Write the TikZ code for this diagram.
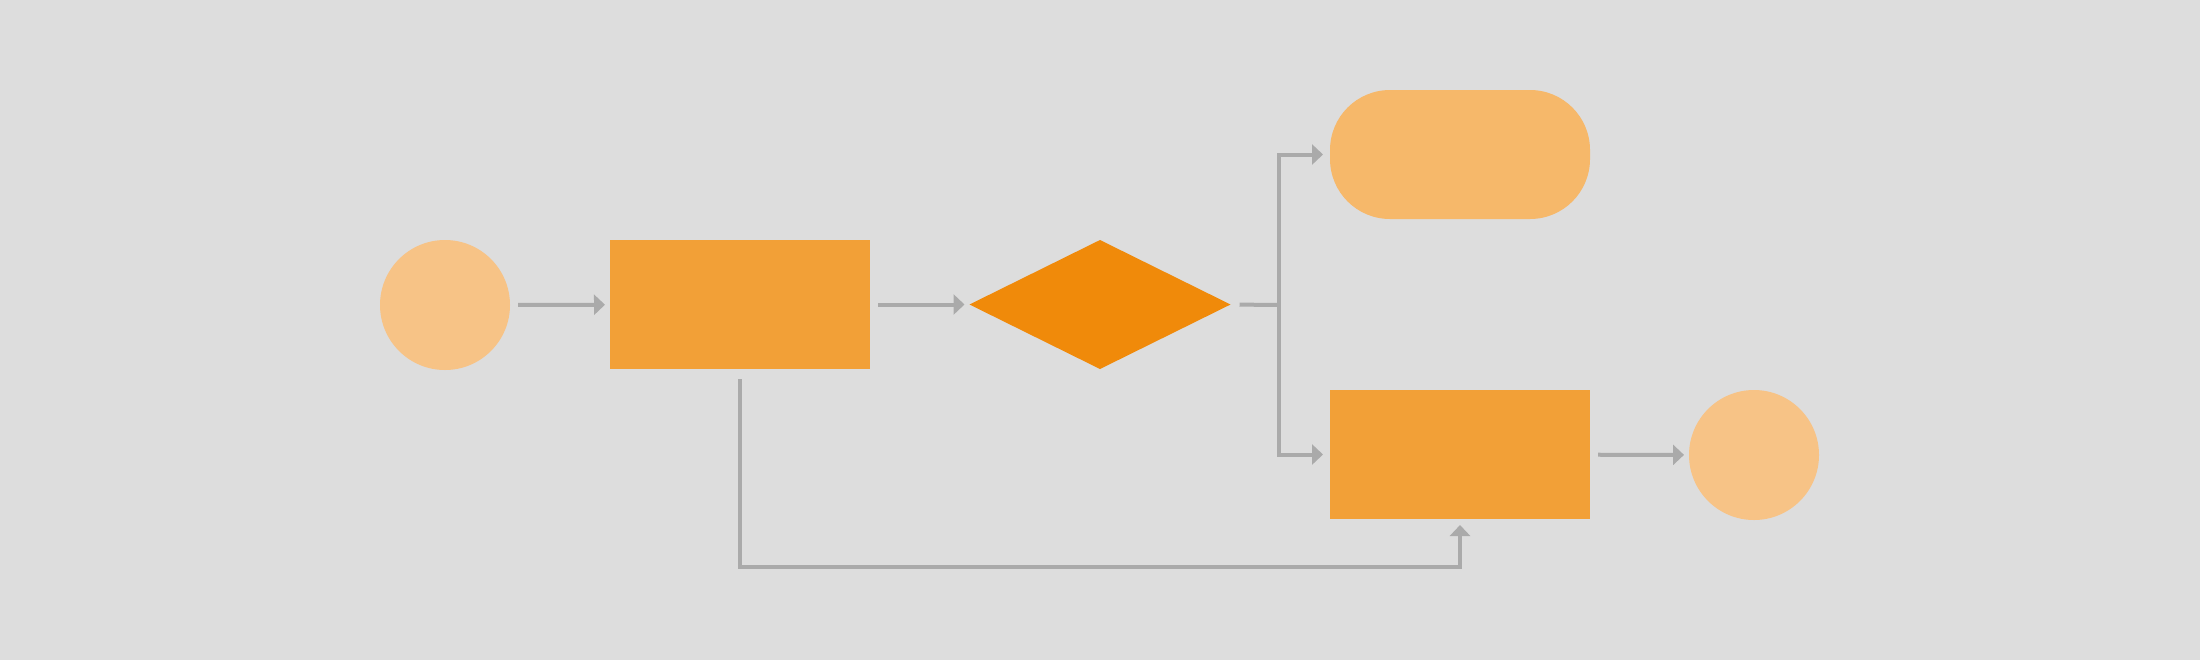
\documentclass[tikz,border=0pt]{standalone}
\usetikzlibrary{shapes.geometric,arrows.meta}
\definecolor{bgc}{HTML}{DDDDDD}
\definecolor{circc}{HTML}{F7C386}
\definecolor{rectc}{HTML}{F2A037}
\definecolor{diamc}{HTML}{F08A0A}
\definecolor{termc}{HTML}{F6B86A}
\definecolor{linec}{HTML}{AAAAAA}
\tikzset{
  circ/.style={circle,fill=circc,minimum size=65pt,inner sep=0pt,outer sep=0pt},
  procbox/.style={rectangle,fill=rectc,minimum width=130pt,minimum height=64.5pt,inner sep=0pt,outer sep=0pt},
  decis/.style={diamond,fill=diamc,minimum width=130.5pt,minimum height=64.5pt,inner sep=0pt,outer sep=0pt},
  termbox/.style={rectangle,rounded corners=30pt,fill=termc,minimum width=130pt,minimum height=64.5pt,inner sep=0pt,outer sep=0pt},
  conn/.style={draw=linec,line width=2pt},
  arr/.style={conn,-{Triangle[length=5.5pt,width=10pt]}},
}
\begin{document}
\begin{tikzpicture}[x=0.5pt,y=-0.5pt]
\fill[bgc] (0,0) rectangle (2200,660);
\useasboundingbox (0,0) rectangle (2200,660);
\node[circ] (c1) at (445,305) {};
\node[procbox] (r1) at (740,304.5) {};
\node[decis] (d) at (1100,304.5) {};
\node[termbox] (t) at (1460,154.5) {};
\node[procbox] (r2) at (1460,454.5) {};
\node[circ] (c2) at (1754,455) {};
\coordinate (br) at (1279,305);
\coordinate (low) at (740,567);
\draw[arr,shorten <=4pt,shorten >=2.5pt] (c1) -- (r1);
\draw[arr,shorten <=4pt,shorten >=2.5pt] (r1) -- (d);
\draw[conn,shorten <=4.5pt] (d.east) -- (br);
\draw[arr,shorten >=3.5pt] (br) |- (t.west);
\draw[arr,shorten >=3.5pt] (br) |- (r2.west);
\draw[arr,shorten <=4pt,shorten >=2.5pt] (r2) -- (c2);
\draw[arr,shorten <=5pt,shorten >=3pt] (r1.south) -- (low) -| (r2.south);
\end{tikzpicture}
\end{document}
